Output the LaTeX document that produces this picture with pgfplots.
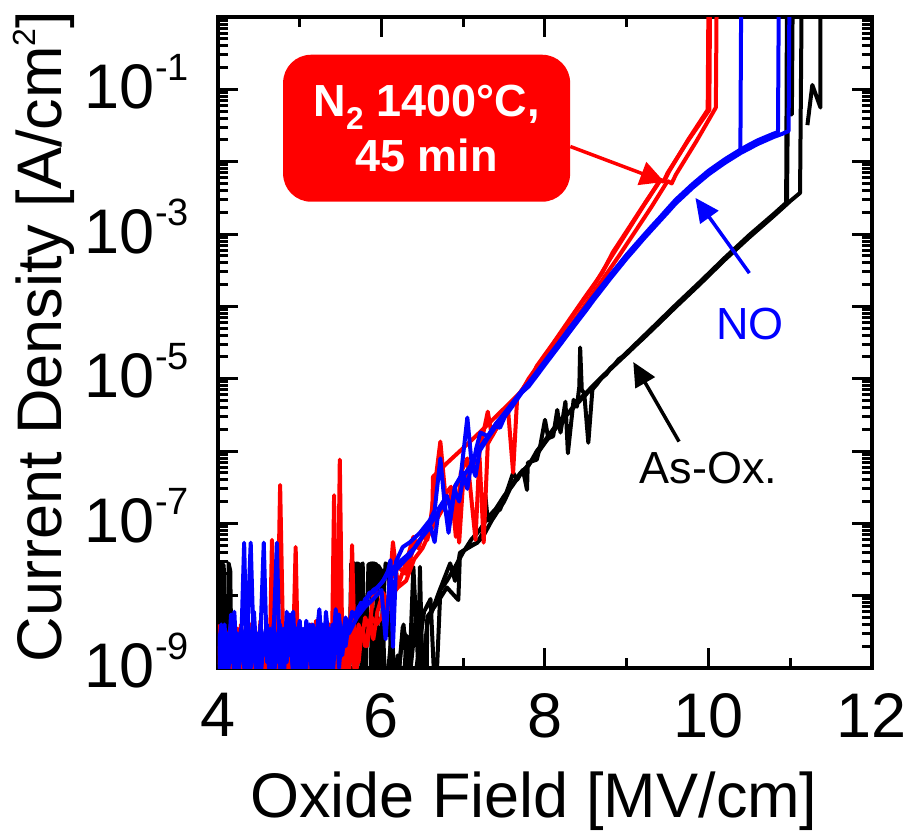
\documentclass[border=0pt]{standalone}
\usepackage{fontspec}
\setmainfont{Liberation Sans}
\usepackage{pgfplots}
\pgfplotsset{compat=1.18}
\usetikzlibrary{arrows.meta}

\newcommand{\bigfont}{\fontsize{63}{63}\selectfont}
\newcommand{\notefont}{\fontsize{45}{55}\selectfont}
\newcommand{\tsup}[1]{\raisebox{28pt}{\fontsize{38}{38}\selectfont #1}}

\begin{document}
\begin{tikzpicture}
\useasboundingbox (-218pt,-165pt) rectangle (695pt,668pt);
\begin{axis}[
  scale only axis, width=654pt, height=651pt,
  xmin=4, xmax=12, ymode=log, ymin=1e-9, ymax=1,
  xtick={4,6,8,10,12}, minor xtick={5,7,9,11},
  ytick={1e-9,1e-8,1e-7,1e-6,1e-5,1e-4,1e-3,1e-2,1e-1},
  yticklabels={10\tsup{-9},,10\tsup{-7},,10\tsup{-5},,10\tsup{-3},,10\tsup{-1}},
  minor ytick={2e-9,3e-9,4e-9,5e-9,6e-9,7e-9,8e-9,9e-9,
               2e-8,3e-8,4e-8,5e-8,6e-8,7e-8,8e-8,9e-8,
               2e-7,3e-7,4e-7,5e-7,6e-7,7e-7,8e-7,9e-7,
               2e-6,3e-6,4e-6,5e-6,6e-6,7e-6,8e-6,9e-6,
               2e-5,3e-5,4e-5,5e-5,6e-5,7e-5,8e-5,9e-5,
               2e-4,3e-4,4e-4,5e-4,6e-4,7e-4,8e-4,9e-4,
               2e-3,3e-3,4e-3,5e-3,6e-3,7e-3,8e-3,9e-3,
               2e-2,3e-2,4e-2,5e-2,6e-2,7e-2,8e-2,9e-2,
               2e-1,3e-1,4e-1,5e-1,6e-1,7e-1,8e-1,9e-1},
  tick align=inside, tick pos=both,
  major tick length=20pt, minor tick length=10pt,
  every tick/.style={black, line width=3pt},
  axis line style={line width=4pt},
  /pgf/number format/assume math mode=true,
  tick label style={font=\bigfont},
  xticklabel style={inner sep=0pt, anchor=north, yshift=-25pt},
  yticklabel style={inner sep=0pt, anchor=base east, xshift=-29pt, yshift=-19pt},
  xlabel={Oxide Field [MV/cm]},
  ylabel={Current Density [A/cm\raisebox{26pt}{\fontsize{32}{32}\selectfont 2}]},
  xlabel style={font=\bigfont, at={([xshift=-11pt,yshift=-149pt]axis description cs:0.5,0)}, anchor=base},
  ylabel style={font=\bigfont, at={([xshift=-156pt,yshift=6pt]axis description cs:0,0.5)}, anchor=base},
  clip=true,
  bk/.style={black, line width=4pt, line join=round},
  rd/.style={red, line width=4pt, line join=round},
  bl/.style={blue, line width=4pt, line join=round},
]

% ---------------- As-oxidized (black) ----------------
\addplot[bk] coordinates {
(4.00,2.8e-8) (4.02,4e-10) (4.05,2.8e-8) (4.07,2.6e-8) (4.09,5e-10) (4.12,1.2e-9) (4.14,3e-10)
(4.40,4e-10) (4.62,2.5e-9) (4.66,3e-10) (5.00,3e-10) (5.30,4e-10) (5.60,3e-10)
(5.63,2.8e-8) (5.67,2.8e-8) (5.69,4e-10) (5.74,2.5e-8) (5.77,2.8e-8) (5.80,3e-10)
(5.84,2.7e-8) (5.88,2.8e-8) (5.91,4e-10) (5.96,2.6e-8) (6.00,2.2e-8) (6.03,1.5e-9)
(6.07,3e-10) (6.13,2.5e-9) (6.18,4e-10) (6.27,4e-9) (6.33,5e-10) (6.42,5e-9) (6.48,6e-10)
(6.56,4e-9) (6.70,1.1e-8) (6.84,2.8e-8) (6.90,1.6e-8) (6.96,3.9e-8) (7.10,5e-8) (7.17,5.4e-8)
(7.24,7.4e-8) (7.27,2.45e-7) (7.30,1.1e-7) (7.37,1.4e-7) (7.45,1.55e-7) (7.54,2.9e-7)
(7.61,5e-7) (7.66,4e-7) (7.73,5.5e-7) (7.78,2.9e-7) (7.79,6.9e-7) (7.90,7.6e-7)
(7.94,1.15e-6) (8.00,2.7e-6) (8.04,1.5e-6) (8.10,1.6e-6) (8.15,3.7e-6) (8.19,1.8e-6)
(8.25,4.8e-6) (8.28,9.3e-7) (8.35,5.1e-6) (8.39,4.1e-6) (8.42,7.8e-6) (8.43,2.7e-5)
(8.45,7e-6) (8.48,6.3e-6) (8.53,1.3e-6) (8.58,7.1e-6) (8.64,8.5e-6) (8.68,1e-5)
(8.75,1.15e-5) (8.80,1.4e-5) (8.85,1.55e-5) (8.90,1.85e-5) (9.00,2.2e-5) (9.10,2.9e-5)
(9.20,3.6e-5) (9.30,4.7e-5) (9.45,6.8e-5) (9.60,1e-4) (9.75,1.45e-4) (9.90,2.1e-4)
(10.05,3.1e-4) (10.20,4.5e-4) (10.35,6.5e-4) (10.50,9.3e-4) (10.65,1.3e-3) (10.80,1.82e-3)
(10.96,2.63e-3) (10.97,4.5e-2) (11.02,4.5e-2) (11.03,2)
};
\addplot[bk] coordinates {
(4.00,3e-10) (4.11,3e-10) (4.13,2.8e-8) (4.15,2.2e-8) (4.17,4e-10) (4.90,3e-10)
(5.60,3e-10) (5.92,3e-10) (5.98,2.2e-9) (6.04,3e-10) (6.11,2e-9) (6.18,3e-10)
(6.26,3.7e-9) (6.35,1.6e-9) (6.39,2.5e-8) (6.45,1e-9) (6.47,2.5e-8) (6.51,3e-10)
(6.55,4e-10) (6.56,5.1e-9) (6.68,7.9e-9) (6.80,1.3e-8) (6.94,8.7e-9) (6.96,3.9e-8)
(7.05,4.5e-8) (7.17,5.4e-8) (7.24,6.5e-8) (7.35,1.1e-7) (7.50,2e-7) (7.60,3.5e-7)
(7.70,5e-7) (7.80,6.3e-7) (7.90,1e-6) (8.00,1.4e-6) (8.10,2e-6) (8.20,2.8e-6)
(8.30,3.5e-6) (8.40,5e-6) (8.50,6.3e-6) (8.60,8.3e-6) (8.70,1.07e-5) (9.00,2.3e-5)
(9.30,4.9e-5) (9.60,1.05e-4) (9.90,2.2e-4) (10.20,4.7e-4) (10.50,9.7e-4) (10.80,1.9e-3)
(10.95,2.7e-3) (10.96,2)
};
\addplot[bk] coordinates {
(4.00,3e-10) (5.55,3e-10) (5.66,4e-10) (5.70,2.8e-8) (5.73,2.7e-8) (5.76,5e-10)
(5.86,4e-10) (5.90,2.8e-8) (5.94,2.7e-8) (5.96,6e-10) (6.05,2.8e-8) (6.09,2.5e-8)
(6.12,5e-10) (6.20,1.5e-9) (6.25,3e-10) (6.31,2.8e-9) (6.38,4e-10) (6.52,6e-9)
(6.60,9e-9) (6.66,3e-10) (6.72,1.2e-8) (6.80,1.6e-8) (6.90,2.5e-8) (7.00,4e-8)
(7.10,6e-8) (7.20,8e-8) (7.30,1.2e-7) (7.40,1.6e-7) (7.50,2.4e-7) (7.60,3.3e-7)
(7.70,4.8e-7) (7.80,6.5e-7) (7.90,9e-7) (8.00,1.3e-6) (8.20,2.6e-6) (8.40,4.6e-6)
(8.60,7.9e-6) (8.80,1.35e-5) (9.00,2.2e-5) (9.30,4.6e-5) (9.60,9.8e-5) (9.90,2.05e-4)
(10.20,4.4e-4) (10.50,9e-4) (10.80,1.78e-3) (11.00,2.85e-3) (11.12,3.7e-3) (11.14,2)
};
\addplot[bk] coordinates {(11.21,3.2e-2) (11.27,1.15e-1) (11.37,5.6e-2) (11.37,2)};

% ---------------- N2 1400 C, 45 min (red) ----------------
\addplot[rd] coordinates {
(4.00,2e-9) (4.04,8e-10) (4.08,3e-9) (4.12,5e-10) (4.16,2e-9) (4.20,1.2e-9) (4.24,3.5e-9)
(4.28,6e-10) (4.32,2.5e-9) (4.36,1e-9) (4.40,4e-9) (4.44,5e-10) (4.48,2e-9) (4.52,3.5e-9)
(4.56,7e-10) (4.60,2.5e-9) (4.63,9e-10) (4.66,5.9e-8) (4.69,1.2e-9) (4.72,3e-9) (4.76,6e-10)
(4.80,2e-9) (4.84,4e-9) (4.88,8e-10) (4.92,2.5e-9) (4.96,5e-10) (5.00,3e-9) (5.04,1.5e-9)
(5.08,4e-9) (5.12,7e-10) (5.16,2e-9) (5.20,3.5e-9) (5.24,6e-10) (5.28,2.5e-9) (5.32,1.2e-9)
(5.36,4e-9) (5.39,8e-10) (5.42,2.45e-7) (5.45,1.5e-9) (5.48,3e-9) (5.52,7e-10) (5.56,2.5e-9)
(5.60,1.2e-9) (5.64,3e-9) (5.68,6e-10) (5.72,2e-9) (5.76,3.5e-9) (5.80,2e-9) (5.86,4.6e-9)
(5.90,2.5e-9) (5.95,6e-9) (6.02,1.1e-8) (6.08,7e-9) (6.14,5.5e-8) (6.20,1.4e-8) (6.23,1.7e-8)
(6.31,3.1e-8) (6.39,6.5e-8) (6.45,4.5e-8) (6.50,7e-8) (6.56,5.9e-8) (6.62,1.2e-7) (6.63,4.4e-7)
(6.80,6.8e-7) (7.00,1.1e-6) (7.20,1.8e-6) (7.40,3e-6) (7.60,5e-6) (7.80,8.5e-6) (7.90,1.5e-5)
(8.10,3.1e-5) (8.30,6.6e-5) (8.50,1.4e-4) (8.70,2.9e-4) (8.83,5.6e-4) (9.00,1.1e-3)
(9.20,2.45e-3) (9.41,5.6e-3) (9.46,5.4e-3) (9.52,7.4e-3) (9.75,2e-2) (9.99,5.2e-2) (10.00,2)
};
\addplot[rd] coordinates {
(4.00,1e-9) (4.04,3e-9) (4.08,7e-10) (4.12,2.5e-9) (4.16,4e-9) (4.20,9e-10) (4.24,2e-9)
(4.28,3.5e-9) (4.32,6e-10) (4.36,3e-9) (4.40,1.5e-9) (4.44,4e-9) (4.48,7e-10) (4.52,2.5e-9)
(4.56,1.2e-9) (4.60,3.5e-9) (4.64,6e-10) (4.68,2e-9) (4.72,1e-9) (4.76,3.4e-7) (4.80,1.5e-9)
(4.84,5e-10) (4.88,3e-9) (4.92,1.2e-9) (4.96,4e-9) (5.00,7e-10) (5.04,2.5e-9) (5.08,5e-10)
(5.12,3e-9) (5.16,1.5e-9) (5.20,4.5e-9) (5.24,8e-10) (5.28,3e-9) (5.32,5e-10) (5.36,2e-9)
(5.40,3.5e-9) (5.44,9e-10) (5.46,1.5e-9) (5.49,7.6e-7) (5.52,2e-9) (5.56,4e-9) (5.60,8e-10)
(5.64,3e-9) (5.68,1.5e-9) (5.72,4e-9) (5.76,2.5e-9) (5.80,5e-9) (5.85,3.5e-9) (5.90,1e-8)
(5.95,1.1e-8) (6.00,1.1e-8) (6.05,3.2e-9) (6.10,1.6e-8) (6.20,2.5e-8) (6.30,2e-8) (6.40,5e-8)
(6.50,6.3e-8) (6.60,1.1e-7) (6.72,1.35e-6) (6.78,2.5e-7) (6.85,3.2e-7) (6.91,6.5e-8)
(6.97,5e-7) (7.05,7.9e-7) (7.15,5.9e-8) (7.20,1e-6) (7.30,3.5e-6) (7.35,1.6e-6) (7.45,2.5e-6)
(7.55,3.5e-6) (7.61,5e-7) (7.66,5.6e-6) (7.75,7.9e-6) (7.90,1.3e-5) (8.10,2.4e-5)
(8.30,5.1e-5) (8.50,1.08e-4) (8.70,2.3e-4) (8.90,4.9e-4) (9.10,1.07e-3) (9.30,2.35e-3)
(9.50,5.4e-3) (9.55,5e-3) (9.60,6.6e-3) (9.85,1.9e-2) (10.09,5.6e-2) (10.10,2)
};
\addplot[rd] coordinates {
(4.00,4e-9) (4.04,1.2e-9) (4.08,5e-10) (4.12,3e-9) (4.16,8e-10) (4.20,2.5e-9) (4.24,5e-10)
(4.28,4e-9) (4.32,1.5e-9) (4.36,2.5e-9) (4.40,6e-10) (4.44,3e-9) (4.48,1.2e-9) (4.52,4.5e-9)
(4.56,8e-10) (4.60,2e-9) (4.64,5e-10) (4.68,3e-9) (4.72,1.8e-9) (4.76,4e-9) (4.80,6e-10)
(4.84,2.5e-9) (4.88,1e-9) (4.92,2e-9) (4.95,4.7e-8) (4.98,1e-9) (5.02,3e-9) (5.06,6e-10)
(5.10,2.5e-9) (5.14,4e-9) (5.18,1e-9) (5.22,3e-9) (5.26,5e-10) (5.30,2e-9) (5.34,3.5e-9)
(5.38,7e-10) (5.42,2.5e-9) (5.46,1.2e-9) (5.50,4e-9) (5.54,6e-10) (5.58,2.5e-9) (5.61,1.5e-9)
(5.64,5e-8) (5.67,2e-9) (5.72,1.2e-9) (5.76,3.5e-9) (5.82,2e-9) (5.88,5e-9) (5.94,4e-9)
(6.00,5e-9) (6.05,8e-9) (6.10,6.5e-9) (6.15,1.1e-8) (6.20,1.3e-8) (6.30,1.6e-8) (6.40,3.2e-8)
(6.50,4.5e-8) (6.60,7.9e-8) (6.70,1.26e-7) (6.80,2e-7) (6.90,3.2e-7) (6.95,5.4e-8) (7.00,4e-7)
(7.10,6.3e-7) (7.20,7.9e-7) (7.25,5.4e-8) (7.30,1.26e-6) (7.40,2e-6) (7.50,3.2e-6)
(7.60,4.5e-6) (7.70,6.3e-6) (7.80,1e-5) (8.00,2.1e-5) (8.20,4.3e-5) (8.40,9.3e-5)
(8.60,1.95e-4) (8.80,4.6e-4) (9.00,1.05e-3) (9.20,2.4e-3) (9.41,5.5e-3) (9.45,5.3e-3)
(9.50,7e-3) (9.75,1.95e-2) (10.01,5.2e-2) (10.02,2)
};

% ---------------- NO anneal (blue) ----------------
\addplot[bl] coordinates {
(4.00,3e-9) (4.04,6e-10) (4.08,2.5e-9) (4.12,1e-9) (4.16,5.5e-9) (4.20,7e-10) (4.24,3e-9)
(4.28,1.5e-9) (4.32,5.4e-8) (4.36,5e-10) (4.40,2e-9) (4.44,6e-9) (4.48,9e-10) (4.52,3e-9)
(4.56,5.4e-8) (4.60,1.2e-9) (4.64,3.5e-9) (4.68,6e-10) (4.72,2.5e-9) (4.76,4e-9) (4.80,8e-10)
(4.84,3e-9) (4.88,1.5e-9) (4.92,6e-9) (4.96,6e-10) (5.00,2e-9) (5.04,3.5e-9) (5.08,1e-9)
(5.12,4e-9) (5.16,7e-10) (5.20,2.5e-9) (5.24,6.5e-9) (5.28,1.2e-9) (5.32,3e-9) (5.36,8e-10)
(5.40,4e-9) (5.44,1.8e-9) (5.48,4.5e-9) (5.52,2.5e-9) (5.56,5e-9) (5.60,3.5e-9) (5.64,6e-9)
(5.68,5e-9) (5.72,7e-9) (5.76,6.5e-9) (5.80,9e-9) (5.85,1e-8) (5.90,1.2e-8) (5.95,1.3e-8)
(6.02,1.6e-8) (6.08,2.2e-8) (6.11,3.1e-8) (6.14,1.95e-9) (6.18,3e-8) (6.26,4.7e-8)
(6.35,5.5e-8) (6.47,7.4e-8) (6.59,1.1e-7) (6.65,1.5e-7) (6.72,7.9e-7) (6.77,2e-7)
(6.82,7.4e-8) (6.90,3.2e-7) (6.97,4.5e-7) (7.05,2.9e-6) (7.11,5.5e-7) (7.16,1.1e-6)
(7.21,1.8e-6) (7.30,1.6e-6) (7.38,2.2e-6) (7.45,2.1e-6) (7.51,3e-6) (7.57,3.7e-6)
(7.65,5e-6) (7.72,6.5e-6) (7.80,8.3e-6) (7.90,1.17e-5) (8.00,1.66e-5) (8.10,2.34e-5)
(8.20,3.3e-5) (8.30,4.7e-5) (8.40,6.6e-5) (8.50,9.3e-5) (8.60,1.32e-4) (8.70,1.84e-4)
(8.80,2.57e-4) (8.90,3.55e-4) (9.00,4.9e-4) (9.10,6.6e-4) (9.20,8.9e-4) (9.30,1.19e-3)
(9.40,1.58e-3) (9.50,2.11e-3) (9.60,2.82e-3) (9.70,3.59e-3) (9.80,4.57e-3) (9.90,5.69e-3)
(10.00,7.08e-3) (10.10,8.5e-3) (10.20,1.02e-2) (10.30,1.2e-2) (10.39,1.4e-2) (10.40,2)
};
\addplot[bl] coordinates {
(4.00,1.5e-9) (4.04,4e-9) (4.08,8e-10) (4.12,3e-9) (4.16,1.2e-9) (4.20,6e-9) (4.24,6e-10)
(4.28,2.5e-9) (4.32,1e-9) (4.36,3.5e-9) (4.40,5.4e-8) (4.44,1.5e-9) (4.48,3e-9) (4.52,7e-10)
(4.56,2.5e-9) (4.60,4e-9) (4.64,1e-9) (4.68,3e-9) (4.72,5.4e-8) (4.76,8e-10) (4.80,3.5e-9)
(4.84,1.2e-9) (4.88,5.5e-9) (4.92,7e-10) (4.96,2.5e-9) (5.00,4.5e-9) (5.04,9e-10) (5.08,3e-9)
(5.12,1.5e-9) (5.16,4e-9) (5.20,6e-10) (5.24,2.5e-9) (5.28,4e-9) (5.32,1e-9) (5.36,3.5e-9)
(5.40,1.5e-9) (5.44,6.5e-9) (5.48,1e-9) (5.52,3.5e-9) (5.56,2e-9) (5.60,4e-9) (5.65,5.5e-9)
(5.70,6e-9) (5.75,8e-9) (5.80,7.5e-9) (5.85,1.1e-8) (5.90,1.1e-8) (6.00,1.5e-8) (6.10,2.2e-8)
(6.20,2.8e-8) (6.30,3.5e-8) (6.40,4.5e-8) (6.50,6.5e-8) (6.60,9e-8) (6.65,5.5e-8)
(6.70,1.6e-7) (6.80,2.4e-7) (6.85,1.5e-7) (6.90,3.3e-7) (7.00,5e-7) (7.05,3e-7) (7.10,7e-7)
(7.20,1.1e-6) (7.30,1.6e-6) (7.40,2.4e-6) (7.50,3.3e-6) (7.60,4.6e-6) (7.70,6.5e-6)
(7.80,8.8e-6) (7.90,1.24e-5) (8.00,1.76e-5) (8.10,2.48e-5) (8.20,3.5e-5) (8.30,5e-5)
(8.40,7e-5) (8.50,9.9e-5) (8.60,1.4e-4) (8.70,1.95e-4) (8.80,2.72e-4) (8.90,3.76e-4)
(9.00,5.2e-4) (9.10,7e-4) (9.20,9.4e-4) (9.30,1.26e-3) (9.40,1.67e-3) (9.50,2.24e-3)
(9.60,2.99e-3) (9.70,3.8e-3) (9.80,4.84e-3) (9.90,6.03e-3) (10.00,7.5e-3) (10.10,9e-3)
(10.20,1.08e-2) (10.30,1.27e-2) (10.40,1.49e-2) (10.50,1.72e-2) (10.60,1.97e-2)
(10.70,2.2e-2) (10.80,2.45e-2) (10.85,2.55e-2) (10.86,2)
};
\addplot[bl] coordinates {
(4.00,5e-10) (4.04,2e-9) (4.08,4e-9) (4.12,7e-10) (4.16,3e-9) (4.20,1.5e-9) (4.24,5e-10)
(4.28,3.5e-9) (4.32,2e-9) (4.36,6e-9) (4.40,1e-9) (4.44,2.5e-9) (4.48,5e-10) (4.52,4e-9)
(4.56,1.5e-9) (4.60,3e-9) (4.64,5e-10) (4.68,4e-9) (4.72,1.2e-9) (4.76,3e-9) (4.80,5e-10)
(4.84,6e-9) (4.88,2.5e-9) (4.92,9e-10) (4.96,3.5e-9) (5.00,1.2e-9) (5.04,5e-10)
(5.08,4.5e-9) (5.12,2e-9) (5.16,6e-10) (5.20,3.5e-9) (5.24,1.5e-9) (5.28,5e-10) (5.32,6e-9)
(5.36,2e-9) (5.40,7e-10) (5.44,3e-9) (5.48,5.5e-9) (5.52,1.5e-9) (5.56,4e-9) (5.60,3e-9)
(5.70,5e-9) (5.80,7e-9) (5.90,9e-9) (6.00,1.2e-8) (6.05,2.5e-9) (6.10,1.8e-8) (6.20,2.4e-8)
(6.30,3.2e-8) (6.35,3.6e-8) (6.45,5.5e-8) (6.55,8e-8) (6.65,1.2e-7) (6.75,1.8e-7)
(6.82,1.2e-7) (6.90,2.8e-7) (6.95,2e-7) (7.00,4.5e-7) (7.10,6.5e-7) (7.15,4.5e-7)
(7.20,1e-6) (7.30,1.5e-6) (7.40,2.2e-6) (7.50,3e-6) (7.60,4.4e-6) (7.70,6.2e-6)
(7.80,7.8e-6) (7.90,1.1e-5) (8.00,1.56e-5) (8.10,2.2e-5) (8.20,3.1e-5) (8.30,4.4e-5)
(8.40,6.2e-5) (8.50,8.7e-5) (8.60,1.24e-4) (8.70,1.73e-4) (8.80,2.42e-4) (8.90,3.34e-4)
(9.00,4.6e-4) (9.10,6.2e-4) (9.20,8.4e-4) (9.30,1.12e-3) (9.40,1.49e-3) (9.50,1.98e-3)
(9.60,2.65e-3) (9.70,3.37e-3) (9.80,4.3e-3) (9.90,5.35e-3) (10.00,6.65e-3) (10.10,8e-3)
(10.20,9.6e-3) (10.30,1.13e-2) (10.40,1.33e-2) (10.50,1.52e-2) (10.60,1.75e-2)
(10.70,1.96e-2) (10.80,2.2e-2) (10.90,2.42e-2) (10.98,2.65e-2) (10.99,2)
};

% ---------------- annotations ----------------
\node[fill=red, rounded corners=28pt, minimum width=287pt, minimum height=147pt,
      text=white, font=\notefont\bfseries, align=center, inner sep=0pt]
  at (axis cs:6.552,0.029) {N\textsubscript{2} 1400\textdegree C,\\45 min};
\draw[red, line width=3.5pt, -{Triangle[length=24pt,width=24pt]}]
  (axis cs:8.31,0.0162) -- (axis cs:9.46,5.25e-3);
\draw[blue, line width=3.5pt, -{Triangle[length=24pt,width=22pt]}]
  (axis cs:10.50,2.88e-4) -- (axis cs:9.84,3.16e-3);
\node[blue, font=\notefont, inner sep=0pt] at (axis cs:10.51,5.75e-5) {NO};
\draw[black, line width=3.5pt, -{Triangle[length=24pt,width=22pt]}]
  (axis cs:9.64,1.35e-6) -- (axis cs:9.08,1.7e-5);
\node[black, font=\notefont, inner sep=0pt] at (axis cs:10.0,5.9e-7) {As-Ox.};
\end{axis}
\end{tikzpicture}
\end{document}
